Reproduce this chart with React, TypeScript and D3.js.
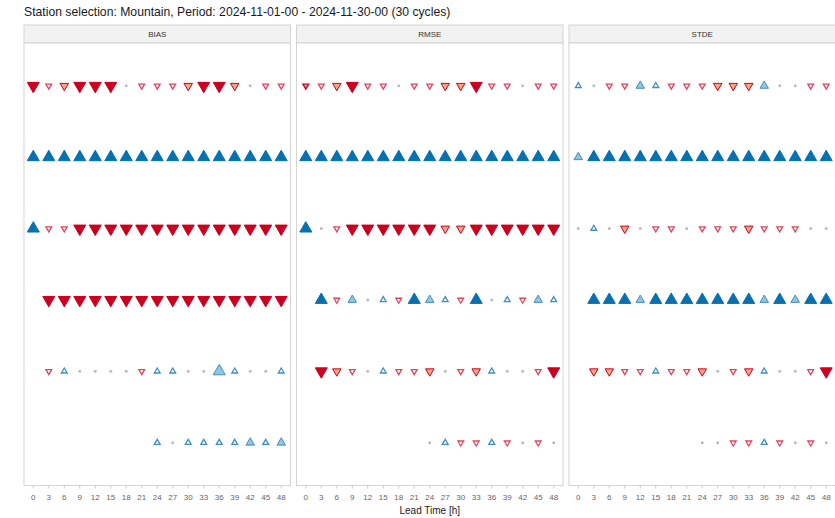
import React from "react";
import * as d3 from "d3";

// Scorecard: sign and strength of score differences by lead time.
// Codes: D/U strong (dark fill), d/u moderate (light fill), s/t weak (white fill),
// "." no difference, "-" no data. Optional trailing digit overrides size level (1-3).
const title =
  "Station selection: Mountain, Period: 2024-11-01-00 - 2024-11-30-00 (30 cycles)";
const leadTimes = [0, 3, 6, 9, 12, 15, 18, 21, 24, 27, 30, 33, 36, 39, 42, 45, 48];
const scores = ["BIAS", "RMSE", "STDE"];
const rowIds = ["r1", "r2", "r3", "r4", "r5", "r6"];

const biasRows = [
  "D s d D D D . s s s d D D d . s s",
  "U U U U U U U U U U U U U U U U U",
  "U s s D D D D D D D D D D D D D D",
  "- D D D D D D D D D D D D D D D D",
  "- s t . . . . s t t . . u3 t . . t",
  "- - - - - - - - t . t t t t u t u",
];
const rmseRows = [
  "d1 s d D s s . s s d d D s s . s s",
  "U U U U U U U U U U U U U U U U U",
  "U . s D D D D D D d d D D D D D D",
  "- U s u . t s U u t s U . t s u t",
  "- D d s . t s s d . s d t . . s D",
  "- - - - - - - - . t s s t s . s .",
];
const stdeRows = [
  "t . s s u t s s s d d d u . . s s",
  "u U U U U U U U U U U U U U U U U",
  ". t . d . s s . s s s d s s s . .",
  "- U U U u U U U U U U U u U u U U",
  "- d d s s t s s d . s d t . . s D",
  "- - - - - - - - . . s s t s . s .",
];
const panelRows = [biasRows, rmseRows, stdeRows];

const W = 835;
const H = 518;
const panelLefts = [24, 296.5, 569];
const panelW = 266.5;
const stripTop = 25;
const panelTop = 43;
const panelBottom = 485.5;

const red = "#CA0020";
const redLight = "#F4A582";
const redWeak = "#E0455F";
const blue = "#0571B0";
const blueLight = "#92C5DE";
const blueWeak = "#3F8FC4";
const sizeWidth: Record<number, number> = { 1: 5.8, 2: 8.5, 3: 12 };

function markerStyle(kind: string) {
  switch (kind) {
    case "D": return { down: true, fill: red, stroke: red, level: 3 };
    case "d": return { down: true, fill: redLight, stroke: red, level: 2 };
    case "s": return { down: true, fill: "#ffffff", stroke: redWeak, level: 1 };
    case "U": return { down: false, fill: blue, stroke: blue, level: 3 };
    case "u": return { down: false, fill: blueLight, stroke: blueWeak, level: 2 };
    case "t": return { down: false, fill: "#ffffff", stroke: blueWeak, level: 1 };
    default: return null;
  }
}

function Panel({ idx }: { idx: number }) {
  const left = panelLefts[idx];
  const x = d3.scalePoint<number>().domain(leadTimes).range([left, left + panelW]).padding(0.6);
  const y = d3.scalePoint<string>().domain(rowIds).range([panelTop, panelBottom]).padding(0.6);
  const rows = panelRows[idx];
  const marks: React.ReactNode[] = [];
  rows.forEach((row, ri) => {
    row.split(" ").forEach((code, ci) => {
      const kind = code[0];
      const cx = x(leadTimes[ci])!;
      const cy = y(rowIds[ri])!;
      const key = `${ri}-${ci}`;
      if (kind === "-") return;
      if (kind === ".") {
        marks.push(<circle key={key} cx={cx} cy={cy} r={1.5} fill="#bdbdbd" />);
        return;
      }
      const st = markerStyle(kind);
      if (!st) return;
      const level = code.length > 1 ? Number(code.slice(1)) : st.level;
      const w = sizeWidth[level] ?? 8;
      const area = (Math.sqrt(3) / 4) * w * w;
      const path = d3.symbol(d3.symbolTriangle, area)()!;
      marks.push(
        <path
          key={key}
          d={path}
          transform={`translate(${cx},${cy})${st.down ? " rotate(180)" : ""}`}
          fill={st.fill}
          stroke={st.stroke}
          strokeWidth={level === 1 ? 1.3 : 1}
          strokeLinejoin="miter"
        />
      );
    });
  });
  return (
    <g>
      <rect x={left} y={stripTop} width={panelW} height={panelTop - stripTop}
        fill="#f2f2f2" stroke="#d4d4d4" strokeWidth={1} />
      <text x={left + panelW / 2} y={(stripTop + panelTop) / 2} textAnchor="middle"
        dominantBaseline="central" fontSize={8} fill="#333333">{scores[idx]}</text>
      <rect x={left} y={panelTop} width={panelW} height={panelBottom - panelTop}
        fill="#ffffff" stroke="#d4d4d4" strokeWidth={1} />
      {marks}
      {leadTimes.map((t) => (
        <g key={t}>
          <line x1={x(t)} x2={x(t)} y1={panelBottom} y2={panelBottom + 3} stroke="#cccccc" />
          <text x={x(t)} y={497} textAnchor="middle" dominantBaseline="central"
            fontSize={8} fill="#666666">{t}</text>
        </g>
      ))}
    </g>
  );
}

export default function App() {
  return (
    <svg width={W} height={H} style={{ position: "absolute", left: 0, top: 0 }}
      fontFamily="'Liberation Sans', Arial, sans-serif">
      <rect width={W} height={H} fill="#ffffff" />
      <text x={24} y={16} fontSize={12.2} fill="#1a1a1a">{title}</text>
      {scores.map((_, i) => <Panel key={i} idx={i} />)}
      <text x={(panelLefts[0] + panelLefts[2] + panelW) / 2} y={510} textAnchor="middle"
        dominantBaseline="central" fontSize={10} fill="#1a1a1a">Lead Time [h]</text>
    </svg>
  );
}
